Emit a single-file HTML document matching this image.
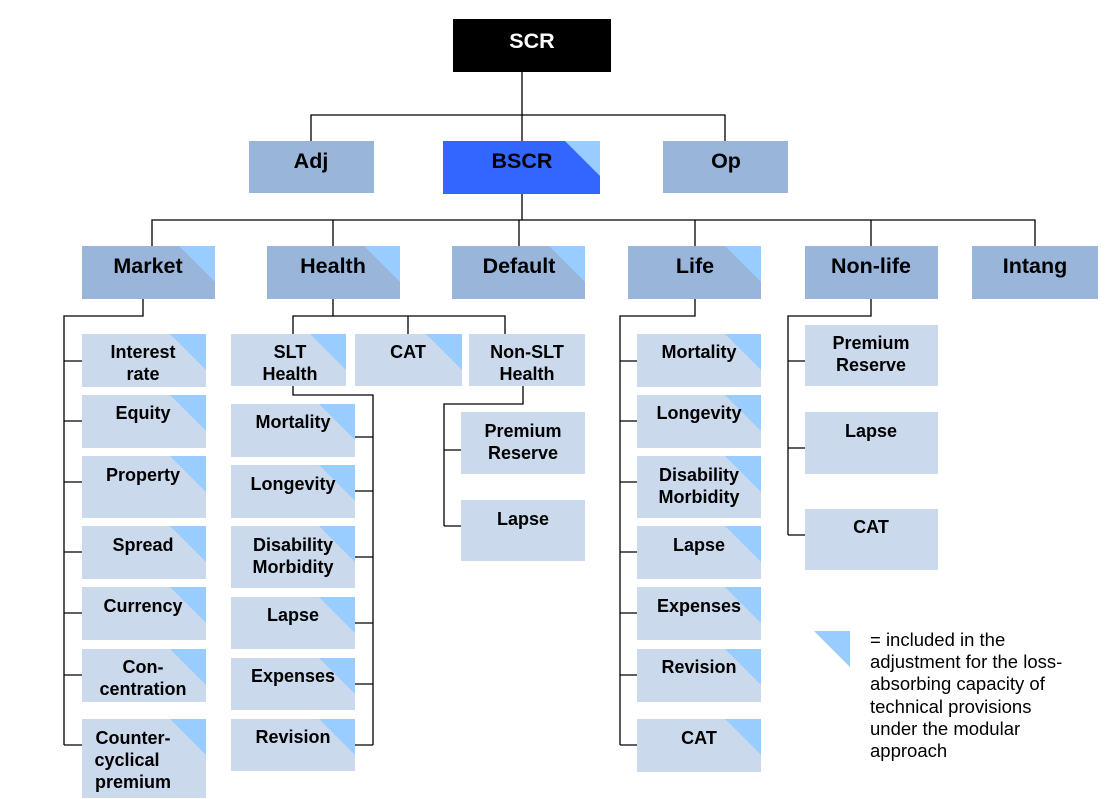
<!DOCTYPE html>
<html><head><meta charset="utf-8"><style>
html,body{margin:0;padding:0;background:#fff}
svg{display:block}
text{font-family:"Liberation Sans",Arial,sans-serif;font-weight:bold;fill:#000;text-anchor:middle}
.l{fill:none;stroke:#000;stroke-width:1.3}
.d{fill:#99b5da}.s{fill:#cbd9ec}.t{fill:#99ccff}
.big{font-size:21.5px}.sm{font-size:18px}
</style></head><body>
<svg width="1115" height="799" viewBox="0 0 1115 799">
<g class="l">
<path d="M522 72V115M311 141V115H725V141M522 115V141"/>
<path d="M522 194V220M152 246V220H1035V246M333 220V246M519 220V246M695 220V246M871 220V246"/>
<path d="M143 299V316H64V745M64 361H82M64 421H82M64 482H82M64 552H82M64 613H82M64 675H82M64 745H82"/>
<path d="M333 299V316M293 334V316H505V334M408 316V334"/>
<path d="M293 386V395H373V745M355 437H373M355 491H373M355 557H373M355 623H373M355 684H373M355 745H373"/>
<path d="M523 386V404H444V526M444 450H461M444 526H461"/>
<path d="M695 299V316H620V745M620 361H637M620 421H637M620 482H637M620 552H637M620 613H637M620 675H637M620 745H637"/>
<path d="M871 299V316H788V535M788 361H805M788 448H805M788 535H805"/>
</g>
<rect x="453" y="19" width="158" height="53" fill="#000"/>
<text x="532" y="48" class="big" style="fill:#fff">SCR</text>
<rect x="249" y="141" width="125" height="52" class="d"/><text x="311" y="168" class="big">Adj</text>
<rect x="443" y="141" width="157" height="53" fill="#3366ff"/><polygon points="565,141 600,141 600,176" class="t"/><text x="522" y="168" class="big">BSCR</text>
<rect x="663" y="141" width="125" height="52" class="d"/><text x="726" y="168" class="big">Op</text>
<g>
<rect x="82" y="246" width="133" height="53" class="d"/><polygon points="179,246 215,246 215,282" class="t"/><text x="148" y="273" class="big">Market</text>
<rect x="267" y="246" width="133" height="53" class="d"/><polygon points="364,246 400,246 400,282" class="t"/><text x="333" y="273" class="big">Health</text>
<rect x="452" y="246" width="133" height="53" class="d"/><polygon points="549,246 585,246 585,282" class="t"/><text x="519" y="273" class="big">Default</text>
<rect x="628" y="246" width="133" height="53" class="d"/><polygon points="725,246 761,246 761,282" class="t"/><text x="695" y="273" class="big">Life</text>
<rect x="805" y="246" width="133" height="53" class="d"/><text x="871" y="273" class="big">Non-life</text>
<rect x="972" y="246" width="126" height="53" class="d"/><text x="1035" y="273" class="big">Intang</text>
</g>
<g class="sm">
<rect x="82" y="334" width="124" height="53" class="s"/><polygon points="170,334 206,334 206,370" class="t"/><text x="143" y="358">Interest</text><text x="143" y="380">rate</text>
<rect x="82" y="395" width="124" height="53" class="s"/><polygon points="170,395 206,395 206,431" class="t"/><text x="143" y="419">Equity</text>
<rect x="82" y="456" width="124" height="62" class="s"/><polygon points="170,456 206,456 206,492" class="t"/><text x="143" y="481">Property</text>
<rect x="82" y="526" width="124" height="53" class="s"/><polygon points="170,526 206,526 206,562" class="t"/><text x="143" y="551">Spread</text>
<rect x="82" y="587" width="124" height="53" class="s"/><polygon points="170,587 206,587 206,623" class="t"/><text x="143" y="612">Currency</text>
<rect x="82" y="649" width="124" height="53" class="s"/><polygon points="170,649 206,649 206,685" class="t"/><text x="143" y="673">Con-</text><text x="143" y="695">centration</text>
<rect x="82" y="719" width="124" height="79" class="s"/><polygon points="170,719 206,719 206,755" class="t"/><text x="133" y="744">Counter-</text><text x="127" y="766">cyclical</text><text x="133" y="788">premium</text>
<rect x="231" y="334" width="115" height="52" class="s"/><polygon points="310,334 346,334 346,370" class="t"/><text x="290" y="358">SLT</text><text x="290" y="380">Health</text>
<rect x="355" y="334" width="107" height="52" class="s"/><polygon points="426,334 462,334 462,370" class="t"/><text x="408" y="358">CAT</text>
<rect x="469" y="334" width="116" height="52" class="s"/><text x="527" y="358">Non-SLT</text><text x="527" y="380">Health</text>
<rect x="231" y="404" width="124" height="53" class="s"/><polygon points="319,404 355,404 355,440" class="t"/><text x="293" y="428">Mortality</text>
<rect x="231" y="465" width="124" height="53" class="s"/><polygon points="319,465 355,465 355,501" class="t"/><text x="293" y="490">Longevity</text>
<rect x="231" y="526" width="124" height="62" class="s"/><polygon points="319,526 355,526 355,562" class="t"/><text x="293" y="551">Disability</text><text x="293" y="573">Morbidity</text>
<rect x="231" y="597" width="124" height="52" class="s"/><polygon points="319,597 355,597 355,633" class="t"/><text x="293" y="621">Lapse</text>
<rect x="231" y="658" width="124" height="52" class="s"/><polygon points="319,658 355,658 355,694" class="t"/><text x="293" y="682">Expenses</text>
<rect x="231" y="719" width="124" height="52" class="s"/><polygon points="319,719 355,719 355,755" class="t"/><text x="293" y="743">Revision</text>
<rect x="461" y="412" width="124" height="62" class="s"/><text x="523" y="437">Premium</text><text x="523" y="459">Reserve</text>
<rect x="461" y="500" width="124" height="61" class="s"/><text x="523" y="525">Lapse</text>
<rect x="637" y="334" width="124" height="53" class="s"/><polygon points="725,334 761,334 761,370" class="t"/><text x="699" y="358">Mortality</text>
<rect x="637" y="395" width="124" height="53" class="s"/><polygon points="725,395 761,395 761,431" class="t"/><text x="699" y="419">Longevity</text>
<rect x="637" y="456" width="124" height="62" class="s"/><polygon points="725,456 761,456 761,492" class="t"/><text x="699" y="481">Disability</text><text x="699" y="503">Morbidity</text>
<rect x="637" y="526" width="124" height="53" class="s"/><polygon points="725,526 761,526 761,562" class="t"/><text x="699" y="551">Lapse</text>
<rect x="637" y="587" width="124" height="53" class="s"/><polygon points="725,587 761,587 761,623" class="t"/><text x="699" y="612">Expenses</text>
<rect x="637" y="649" width="124" height="53" class="s"/><polygon points="725,649 761,649 761,685" class="t"/><text x="699" y="673">Revision</text>
<rect x="637" y="719" width="124" height="53" class="s"/><polygon points="725,719 761,719 761,755" class="t"/><text x="699" y="744">CAT</text>
<rect x="805" y="325" width="133" height="61" class="s"/><text x="871" y="349">Premium</text><text x="871" y="371">Reserve</text>
<rect x="805" y="412" width="133" height="62" class="s"/><text x="871" y="437">Lapse</text>
<rect x="805" y="509" width="133" height="61" class="s"/><text x="871" y="533">CAT</text>
</g>
<polygon points="814,631 850,631 850,667" class="t"/>
<g style="font-size:18.5px">
<text x="870" y="646" style="font-weight:normal;text-anchor:start">= included in the</text>
<text x="870" y="668" style="font-weight:normal;text-anchor:start">adjustment for the loss-</text>
<text x="870" y="690" style="font-weight:normal;text-anchor:start">absorbing capacity of</text>
<text x="870" y="713" style="font-weight:normal;text-anchor:start">technical provisions</text>
<text x="870" y="735" style="font-weight:normal;text-anchor:start">under the modular</text>
<text x="870" y="757" style="font-weight:normal;text-anchor:start">approach</text>
</g>
</svg>
</body></html>
